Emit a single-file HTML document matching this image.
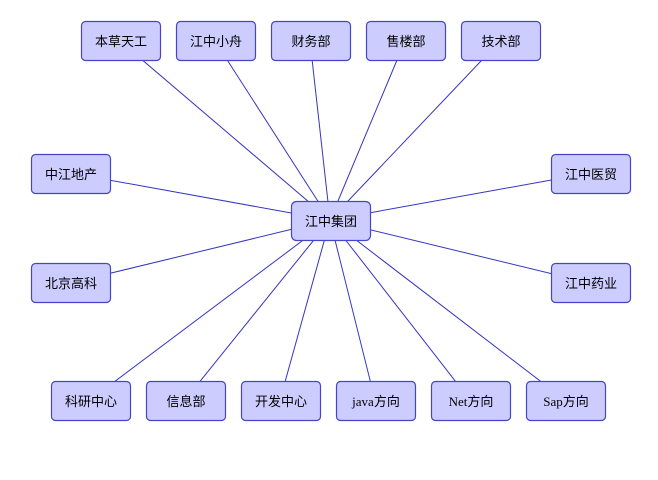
<!DOCTYPE html>
<html><head><style>body{margin:0;background:#fff}</style></head><body>
<svg width="658" height="475" xmlns="http://www.w3.org/2000/svg" font-family="Liberation Serif, 'Noto Sans CJK SC', sans-serif" font-size="13">
<g stroke="#3535c0" stroke-width="1">
<line x1="330" y1="220" x2="120" y2="41"/>
<line x1="330" y1="220" x2="215" y2="41"/>
<line x1="330" y1="220" x2="310" y2="41"/>
<line x1="330" y1="220" x2="405" y2="41"/>
<line x1="330" y1="220" x2="500" y2="41"/>
<line x1="330" y1="220" x2="70" y2="173"/>
<line x1="330" y1="220" x2="70" y2="283"/>
<line x1="330" y1="220" x2="590" y2="173"/>
<line x1="330" y1="220" x2="590" y2="283"/>
<line x1="330" y1="220" x2="90" y2="400"/>
<line x1="330" y1="220" x2="185" y2="400"/>
<line x1="330" y1="220" x2="280" y2="400"/>
<line x1="330" y1="220" x2="375" y2="400"/>
<line x1="330" y1="220" x2="470" y2="400"/>
<line x1="330" y1="220" x2="565" y2="400"/>
</g>
<g fill="#ccccff" stroke="#4545c8" stroke-width="1.2">
<rect x="291.5" y="201.5" width="79" height="39" rx="5"/>
<rect x="81.5" y="21.5" width="79" height="39" rx="4"/>
<rect x="176.5" y="21.5" width="79" height="39" rx="4"/>
<rect x="271.5" y="21.5" width="79" height="39" rx="4"/>
<rect x="366.5" y="21.5" width="79" height="39" rx="4"/>
<rect x="461.5" y="21.5" width="79" height="39" rx="4"/>
<rect x="31.5" y="154.5" width="79" height="39" rx="4"/>
<rect x="31.5" y="263.5" width="79" height="39" rx="4"/>
<rect x="551.5" y="154.5" width="79" height="39" rx="4"/>
<rect x="551.5" y="263.5" width="79" height="39" rx="4"/>
<rect x="51.5" y="381.5" width="79" height="39" rx="4"/>
<rect x="146.5" y="381.5" width="79" height="39" rx="4"/>
<rect x="241.5" y="381.5" width="79" height="39" rx="4"/>
<rect x="336.5" y="381.5" width="79" height="39" rx="4"/>
<rect x="431.5" y="381.5" width="79" height="39" rx="4"/>
<rect x="526.5" y="381.5" width="79" height="39" rx="4"/>
</g>
<g fill="#000" text-anchor="middle">
<text x="331" y="226">江中集团</text>
<text x="121" y="46">本草天工</text>
<text x="216" y="46">江中小舟</text>
<text x="311" y="46">财务部</text>
<text x="406" y="46">售楼部</text>
<text x="501" y="46">技术部</text>
<text x="71" y="179">中江地产</text>
<text x="71" y="288">北京高科</text>
<text x="591" y="179">江中医贸</text>
<text x="591" y="288">江中药业</text>
<text x="91" y="406">科研中心</text>
<text x="186" y="406">信息部</text>
<text x="281" y="406">开发中心</text>
<text x="376" y="406">java方向</text>
<text x="471" y="406">Net方向</text>
<text x="566" y="406">Sap方向</text>
</g>
</svg>
</body></html>
